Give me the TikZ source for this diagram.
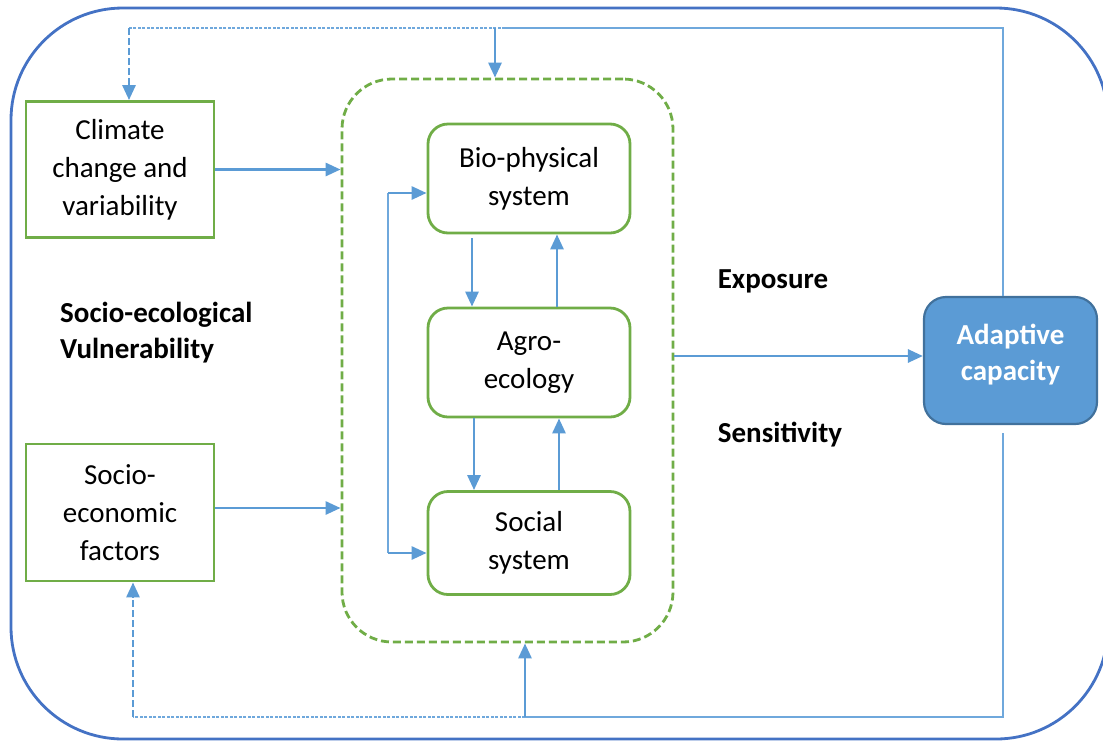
\documentclass[tikz,border=0pt]{standalone}
\usepackage{fontspec}
\setmainfont{Carlito}
\usetikzlibrary{arrows.meta,calc}
\definecolor{outerblue}{HTML}{4472C4}
\definecolor{grn}{HTML}{70AD47}
\definecolor{arrblue}{HTML}{5B9BD5}
\definecolor{thinblue}{HTML}{6FA8DC}
\definecolor{darkblue}{HTML}{41719C}
\begin{document}
\begin{tikzpicture}[x=1pt,y=-1pt,
  txt/.style={font=\fontsize{29}{38}\selectfont, align=center, inner sep=0pt},
  sqbox/.style={txt, draw=grn, line width=2.8pt, minimum width=188pt, minimum height=136pt},
  rbox/.style={txt, draw=grn, line width=2.8pt, rounded corners=20pt, minimum width=202pt, minimum height=109pt},
  arr/.style={draw=arrblue, line width=2.8pt, -{Triangle[length=15pt,width=13pt]}},
  thinln/.style={draw=thinblue, line width=1.6pt},
  dotln/.style={draw=thinblue, line width=1.4pt, dash pattern=on 3pt off 1.5pt},
  dasharr/.style={arr, dash pattern=on 7pt off 3pt},
  lbl/.style={font=\fontsize{29}{36}\selectfont\bfseries, inner sep=0pt}]
\useasboundingbox (0,0) rectangle (1103,740);

% outer frame
\draw[outerblue, line width=2.8pt, rounded corners=112pt] (11,8) rectangle (1108,739);

% nodes
\node[sqbox] (clim) at (120,169.5) {Climate\\change and\\variability};
\node[sqbox, minimum height=137pt] (socio) at (120,512.5) {Socio-\\economic\\factors};
\node[draw=grn, line width=2.8pt, dash pattern=on 8pt off 4pt, rounded corners=50pt,
      minimum width=331pt, minimum height=563pt, inner sep=0pt] (dbox) at (507.5,360.5) {};
\node[rbox] (bio) at (529,178.5) {Bio-physical\\system};
\node[rbox] (agro) at (529,362.5) {Agro-\\ecology};
\node[rbox, minimum height=103pt] (soc) at (529,543) {Social\\system};
\node[fill=arrblue, draw=darkblue, line width=2.2pt, rounded corners=22pt,
      minimum width=173pt, minimum height=127pt, inner sep=0pt,
      label={[lbl, text=white, align=center, yshift=6pt]center:Adaptive\\capacity}] (adapt) at (1010.5,360.5) {};

% labels
\node[lbl, align=left, anchor=west] (sev) at (60,333) {Socio-ecological\\Vulnerability};
\node[lbl] (expo) at (773,281) {Exposure};
\node[lbl] (sens) at (780,435) {Sensitivity};

% main arrows
\draw[arr] (clim.east) -- (clim.east -| dbox.west);
\draw[arr] ([yshift=4.5pt]socio.east) -- ([yshift=4.5pt]socio.east -| dbox.west);
\draw[arr] ([yshift=4.5pt]dbox.east) -- ([yshift=4.5pt]adapt.west);

% bracket
\coordinate (bk1) at (388,193);
\coordinate (bk2) at (388,553);
\draw[thinln] (bk1) -- (bk2);
\draw[arr] (bk1) -- (bk1 -| bio.west);
\draw[arr] (bk2) -- (bk2 -| soc.west);

% internal arrows
\draw[arr, shorten <=4pt] ([xshift=-57pt]bio.south) -- ([xshift=-57pt]agro.north);
\draw[arr] ([xshift=28pt]agro.north) -- ([xshift=28pt]bio.south);
\draw[arr] ([xshift=-55pt]agro.south) -- ([xshift=-55pt]soc.north);
\draw[arr] ([xshift=30pt]soc.north) -- ([xshift=30pt]agro.south);

% top feedback
\coordinate (t1) at (1003,28);
\coordinate (t2) at (505,28);
\coordinate (t3) at (495,28);
\coordinate (t4) at (129,28);
\draw[thinln] ([xshift=-7.5pt]adapt.north) -- (t1) -- (t2);
\draw[dotln] (t2) -- (t4);
\draw[dasharr] (t4) -- (t4 |- clim.north);
\draw[arr] (t3) -- (t3 |- dbox.north);

% bottom feedback
\coordinate (b0) at (1003,433);
\coordinate (b1) at (1003,717);
\coordinate (b2) at (525,717);
\coordinate (b3) at (133,717);
\draw[thinln] (b0) -- (b1) -- (b2);
\draw[dotln] (b2) -- (b3);
\draw[dasharr] (b3) -- (b3 |- socio.south);
\draw[arr] (b2) -- (b2 |- dbox.south);
\end{tikzpicture}
\end{document}
